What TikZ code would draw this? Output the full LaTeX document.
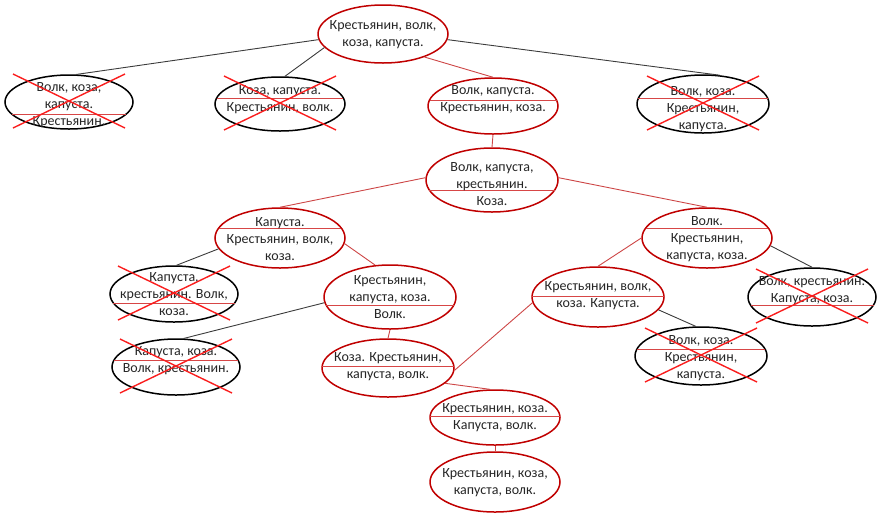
\documentclass[tikz,border=0pt]{standalone}
\usepackage{fontspec}
\setmainfont{Carlito}
\usetikzlibrary{shapes.geometric}
\definecolor{ellred}{RGB}{192,0,0}
\definecolor{xred}{RGB}{250,30,30}
\definecolor{conred}{RGB}{205,70,70}
\definecolor{congray}{RGB}{60,60,60}
\definecolor{sepred}{RGB}{215,70,70}
\newcommand\sepline[3]{\draw[sepl] (#1-#3,#2) -- (#1+#3,#2);}
\newcommand\crossout[2]{\draw[xline] (#1-56,#2-28) -- (#1+56,#2+26); \draw[xline] (#1+56,#2-28) -- (#1-56,#2+26);}
\begin{document}
\begin{tikzpicture}[x=1pt,y=-1pt,
  ell/.style={ellipse, line width=1.5pt, fill=white, inner sep=0pt},
  good/.style={ell, draw=ellred},
  bad/.style={ell, draw=black},
  txt/.style={align=center, inner sep=0pt, text=black!85, font=\fontsize{14}{16.8}\selectfont},
  sepl/.style={draw=sepred, line width=0.8pt},
  xline/.style={draw=xred, line width=1.4pt},
  redc/.style={draw=conred, line width=0.9pt},
  blkc/.style={draw=congray, line width=0.9pt}]
\useasboundingbox (0,0) rectangle (880,515);

% ellipses
\node[good, minimum width=130pt, minimum height=58pt] (n1) at (383,34) {};
\node[bad,  minimum width=128pt, minimum height=54pt] (n2) at (69,102) {};
\node[bad,  minimum width=130pt, minimum height=54pt] (n3) at (280,104) {};
\node[good, minimum width=130pt, minimum height=56pt] (n4) at (493,106) {};
\node[bad,  minimum width=132pt, minimum height=58pt] (n5) at (703,104) {};
\node[good, minimum width=132pt, minimum height=64pt] (n6) at (492,180) {};
\node[good, minimum width=130pt, minimum height=60pt] (n7) at (280,238) {};
\node[good, minimum width=130pt, minimum height=60pt] (n8) at (707,238) {};
\node[bad,  minimum width=128pt, minimum height=56pt] (n9) at (174,294) {};
\node[bad,  minimum width=128pt, minimum height=58pt] (n10) at (812,297) {};
\node[good, minimum width=132pt, minimum height=60pt] (n11) at (598,297) {};
\node[good, minimum width=132pt, minimum height=64pt] (n12) at (390,297) {};
\node[bad,  minimum width=128pt, minimum height=56pt] (n13) at (176,367) {};
\node[good, minimum width=132pt, minimum height=58pt] (n14) at (388,368) {};
\node[bad,  minimum width=132pt, minimum height=58pt] (n15) at (701,356) {};
\node[good, minimum width=130pt, minimum height=55pt] (n16) at (495,417.5) {};
\node[good, minimum width=130pt, minimum height=60pt] (n17) at (495,482) {};

% connectors
\draw[blkc] (n1.185) -- (n2.75);
\draw[blkc] (n1.193) -- (n3.80);
\draw[redc] (n1.331) -- (n4.north);
\draw[blkc] (n1.355) -- (n5.60);
\draw[redc] (n4.south) -- (n6.north);
\draw[redc] (n6.178) -- (n7.north);
\draw[redc] (n6.2) -- (n8.north);
\draw[blkc] (n7.190) -- (n9.85);
\draw[redc] (n7.355) -- (n12.115);
\draw[blkc] (n12.185) -- (n13.75);
\draw[redc] (n12.south) -- (n14.north);
\draw[redc] (n14.345) -- (n16.100);
\draw[redc] (n16.south) -- (n17.north);
\draw[redc] (n8.180) -- (n11.north);
\draw[blkc] (n8.353) -- (n10.north);
\draw[redc] (n11.185) -- (n14.358);
\draw[blkc] (n11.348) -- (n15.100);

% separators
\sepline{69}{114}{57.3}
\sepline{280}{98}{63.4}
\sepline{493}{100}{63.5}
\sepline{703}{98}{64.6}
\sepline{492}{190}{62.7}
\sepline{280}{228}{61.3}
\sepline{707}{228}{61.3}
\sepline{174}{303}{60.6}
\sepline{812}{305}{61.5}
\sepline{598}{296}{65.9}
\sepline{390}{305}{63.9}
\sepline{176}{360}{62}
\sepline{388}{366}{65.8}
\sepline{701}{349}{64}
\sepline{495}{416}{64.9}

% texts
\node[txt] (t1) at (383,35) {Крестьянин, волк,\\коза, капуста.};
\node[txt] (t2) at (69,105) {Волк, коза,\\капуста.\\Крестьянин.};
\node[txt] (t3) at (280,100) {Коза, капуста.\\Крестьянин, волк.};
\node[txt] (t4) at (493,100) {Волк, капуста.\\Крестьянин, коза.};
\node[txt] (t5) at (703,109) {Волк, коза.\\Крестьянин,\\капуста.};
\node[txt] (t6) at (492,184) {Волк, капуста,\\крестьянин.\\Коза.};
\node[txt] (t7) at (280,239) {Капуста.\\Крестьянин, волк,\\коза.};
\node[txt] (t8) at (707,239) {Волк.\\Крестьянин,\\капуста, коза.};
\node[txt] (t9) at (174,294) {Капуста,\\крестьянин. Волк,\\коза.};
\node[txt] (t10) at (812,291) {Волк, крестьянин.\\Капуста, коза.};
\node[txt] (t11) at (598,296) {Крестьянин, волк,\\коза. Капуста.};
\node[txt] (t12) at (390,297) {Крестьянин,\\капуста, коза.\\Волк.};
\node[txt] (t13) at (176,361) {Капуста, коза.\\Волк, крестьянин.};
\node[txt] (t14) at (388,367) {Коза. Крестьянин,\\капуста, волк.};
\node[txt] (t15) at (701,358) {Волк, коза.\\Крестьянин,\\капуста.};
\node[txt] (t16) at (495,418) {Крестьянин, коза.\\Капуста, волк.};
\node[txt] (t17) at (495,483) {Крестьянин, коза,\\капуста, волк.};

% crosses
\crossout{69}{102}
\crossout{280}{104}
\crossout{703}{104}
\crossout{174}{294}
\crossout{812}{297}
\crossout{176}{367}
\crossout{701}{356}
\end{tikzpicture}
\end{document}
